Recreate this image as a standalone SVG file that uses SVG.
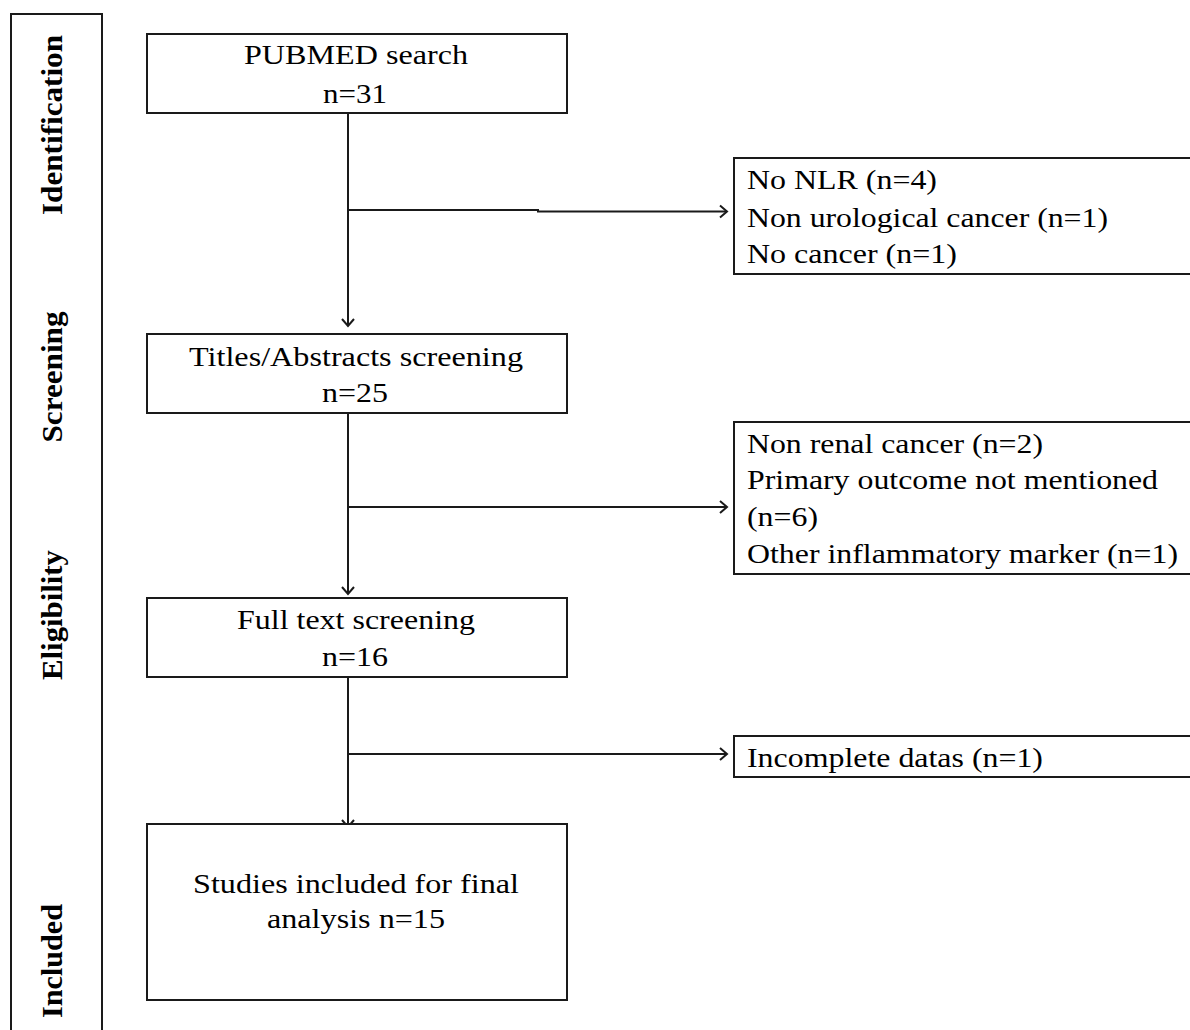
<svg xmlns="http://www.w3.org/2000/svg" width="1190" height="1030" viewBox="0 0 1190 1030">
<style>
.box{fill:#fff;stroke:#1a1a1a;stroke-width:2}
.t{font-family:'Liberation Serif','Times New Roman',Times,Tinos,'Nimbus Roman',serif;font-size:28px;fill:#000}
.c{text-anchor:middle}
.side{font-family:'Liberation Serif','Times New Roman',Times,Tinos,'Nimbus Roman',serif;font-size:30px;font-weight:bold;fill:#000;text-anchor:middle}
.ln{fill:none;stroke:#1a1a1a;stroke-width:2}
</style>
<defs>
<marker id="arr" markerUnits="userSpaceOnUse" markerWidth="20" markerHeight="20" refX="10" refY="10" orient="auto" viewBox="0 0 20 20">
<path d="M3,4 L10,10 L3,16" fill="none" stroke="#1a1a1a" stroke-width="2"/>
</marker>
</defs>
<rect width="1190" height="1030" fill="#fff"/>
<g id="sidebar">
<rect class="box" x="11" y="14" width="91" height="1030"/>
<text class="side" transform="translate(62,125) rotate(-90)" textLength="180" lengthAdjust="spacingAndGlyphs">Identification</text>
<text class="side" transform="translate(62,377) rotate(-90)" textLength="131" lengthAdjust="spacingAndGlyphs">Screening</text>
<text class="side" transform="translate(62,615) rotate(-90)" textLength="130" lengthAdjust="spacingAndGlyphs">Eligibility</text>
<text class="side" transform="translate(62,961) rotate(-90)" textLength="114" lengthAdjust="spacingAndGlyphs">Included</text>
</g>
<g id="connectors">
<path class="ln" d="M348,113 V326" marker-end="url(#arr)"/>
<path class="ln" d="M348,210 H538 V211.5 H727" marker-end="url(#arr)"/>
<path class="ln" d="M348,413 V594" marker-end="url(#arr)"/>
<path class="ln" d="M348,507 H727" marker-end="url(#arr)"/>
<path class="ln" d="M348,677 V827" marker-end="url(#arr)"/>
<path class="ln" d="M348,754 H727" marker-end="url(#arr)"/>
</g>
<g id="pubmed">
<rect class="box" x="147" y="34" width="420" height="79"/>
<text class="t c" x="356" y="64" textLength="224" lengthAdjust="spacingAndGlyphs">PUBMED search</text>
<text class="t c" x="355" y="103" textLength="64" lengthAdjust="spacingAndGlyphs">n=31</text>
</g>
<g id="titles">
<rect class="box" x="147" y="334" width="420" height="79"/>
<text class="t c" x="356" y="366" textLength="334" lengthAdjust="spacingAndGlyphs">Titles/Abstracts screening</text>
<text class="t c" x="355" y="402" textLength="66" lengthAdjust="spacingAndGlyphs">n=25</text>
</g>
<g id="fulltext">
<rect class="box" x="147" y="598" width="420" height="79"/>
<text class="t c" x="356" y="629" textLength="238" lengthAdjust="spacingAndGlyphs">Full text screening</text>
<text class="t c" x="355" y="666" textLength="66" lengthAdjust="spacingAndGlyphs">n=16</text>
</g>
<g id="included">
<rect class="box" x="147" y="824" width="420" height="176"/>
<text class="t c" x="356" y="893" textLength="326" lengthAdjust="spacingAndGlyphs">Studies included for final</text>
<text class="t c" x="356" y="928" textLength="178" lengthAdjust="spacingAndGlyphs">analysis n=15</text>
</g>
<g id="excl1">
<rect class="box" x="734" y="158" width="470" height="116"/>
<text class="t" x="747" y="189" textLength="190" lengthAdjust="spacingAndGlyphs">No NLR (n=4)</text>
<text class="t" x="747" y="227" textLength="361" lengthAdjust="spacingAndGlyphs">Non urological cancer (n=1)</text>
<text class="t" x="747" y="263" textLength="210" lengthAdjust="spacingAndGlyphs">No cancer (n=1)</text>
</g>
<g id="excl2">
<rect class="box" x="734" y="422" width="470" height="152"/>
<text class="t" x="747" y="453" textLength="296" lengthAdjust="spacingAndGlyphs">Non renal cancer (n=2)</text>
<text class="t" x="747" y="489" textLength="411" lengthAdjust="spacingAndGlyphs">Primary outcome not mentioned</text>
<text class="t" x="747" y="526" textLength="71" lengthAdjust="spacingAndGlyphs">(n=6)</text>
<text class="t" x="747" y="563" textLength="431" lengthAdjust="spacingAndGlyphs">Other inflammatory marker (n=1)</text>
</g>
<g id="excl3">
<rect class="box" x="734" y="736" width="470" height="41"/>
<text class="t" x="747" y="767" textLength="296" lengthAdjust="spacingAndGlyphs">Incomplete datas (n=1)</text>
</g>
</svg>
